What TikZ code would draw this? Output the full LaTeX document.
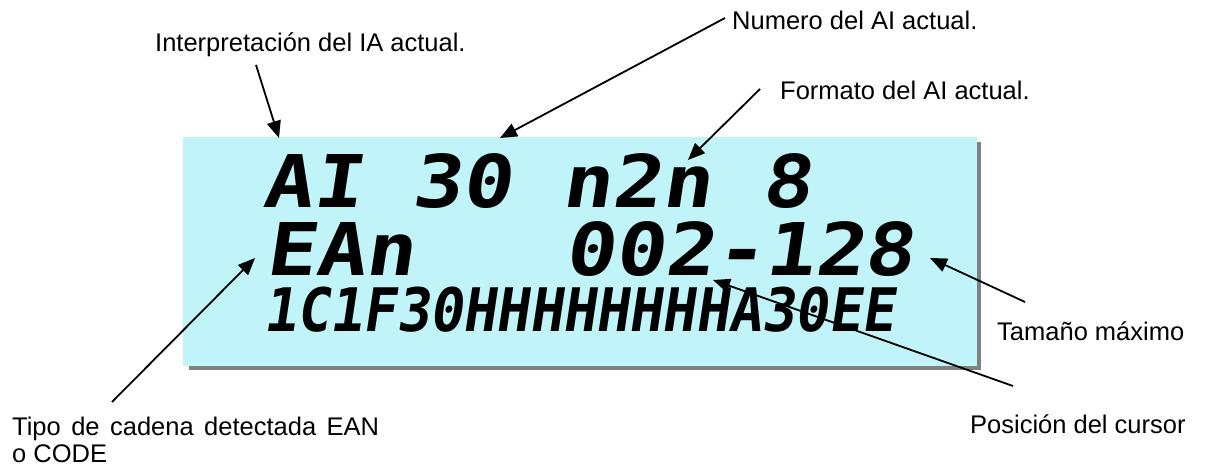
\documentclass[tikz,border=0pt]{standalone}
\usepackage{fontspec}
\setmainfont{Liberation Sans}
\newfontfamily\lcdbig[FakeSlant=0.15,FakeStretch=1.14]{DejaVu Sans Mono Bold}
\newfontfamily\lcdsmall[FakeSlant=0.15,FakeStretch=0.92]{DejaVu Sans Mono Bold}
\usetikzlibrary{arrows.meta}
\definecolor{lcdbg}{RGB}{192,244,248}
\definecolor{shadowgray}{RGB}{128,128,128}
\begin{document}
\begin{tikzpicture}[x=1pt,y=-1pt,
  lbl/.style={inner sep=0pt, anchor=base west, font=\fontsize{25.5}{27}\selectfont},
  lcdone/.style={inner sep=0pt, anchor=base west, font=\lcdbig\fontsize{72.7}{80}\selectfont},
  lcdtwo/.style={inner sep=0pt, anchor=base west, font=\lcdsmall\fontsize{60}{66}\selectfont},
  arr/.style={line width=1.8pt, -{Triangle[length=17pt,width=14pt]}}]
\useasboundingbox (0,0) rectangle (1205,470);
% display
\fill[shadowgray] (189,142) rectangle (981,370);
\fill[lcdbg] (183,137) rectangle (977,366);
\node[lcdone] (r1) at (262,208) {AI~30~n2n~8};
\node[lcdone] (r2) at (265,276) {EAn~~~002-128};
\node[lcdtwo] (r3) at (263,332) {1C1F30HHHHHHHHA30EE};
% labels
\node[lbl] (interp) at (155,52) {Interpretación del IA actual.};
\node[lbl] (numero) at (732,30) {Numero del AI actual.};
\node[lbl] (formato) at (780,100) {Formato del AI actual.};
\node[lbl] (tamano) at (997,341) {Tamaño máximo};
\node[lbl] (posicion) at (970,433) {Posición del cursor};
\node[lbl] (tipo) at (12,435) {\makebox[367pt][s]{Tipo de cadena detectada EAN}};
\node[lbl] (tipob) at (12,462) {o CODE};
% connector ends
\coordinate (interpT) at (256,65);  \coordinate (interpH) at (279,138);
\coordinate (numeroT) at (725,18);  \coordinate (numeroH) at (500,138);
\coordinate (formatoT) at (760,89); \coordinate (formatoH) at (688,160);
\coordinate (tamanoT) at (1025,302); \coordinate (tamanoH) at (930,258);
\coordinate (posT) at (1013,386);   \coordinate (posH) at (713,280);
\coordinate (tipoT) at (112,402);   \coordinate (tipoH) at (255,258);
\draw[arr] (interpT) -- (interpH);
\draw[arr] (numeroT) -- (numeroH);
\draw[arr] (formatoT) -- (formatoH);
\draw[arr] (tamanoT) -- (tamanoH);
\draw[arr] (posT) -- (posH);
\draw[arr] (tipoT) -- (tipoH);
\end{tikzpicture}
\end{document}
